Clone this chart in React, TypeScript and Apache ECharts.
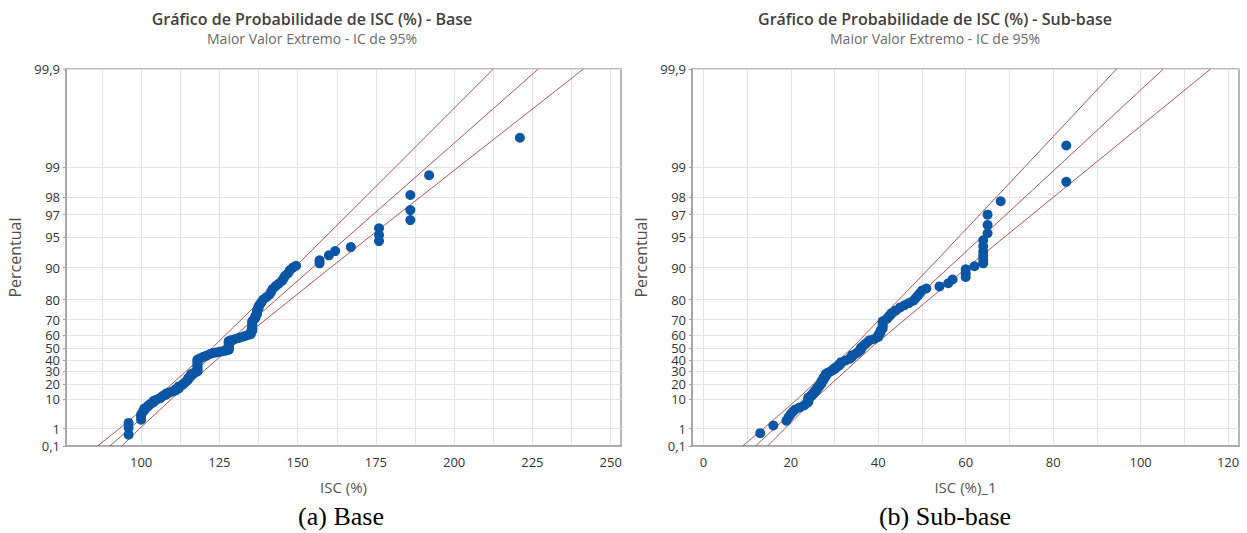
import React, { useEffect, useRef } from "react";
import * as echarts from "echarts";

// Percent ticks of the largest-extreme-value probability scale
const PERCENT_TICKS = [0.1, 1, 10, 20, 30, 40, 50, 60, 70, 80, 90, 95, 97, 98, 99, 99.9];
const PERCENT_LABELS = ["0,1", "1", "10", "20", "30", "40", "50", "60", "70", "80", "90", "95", "97", "98", "99", "99,9"];

// X axis ticks
const BASE_X_LABELS = [100, 125, 150, 175, 200, 225, 250];
const BASE_X_GRID = [87.5, 100, 112.5, 125, 137.5, 150, 162.5, 175, 187.5, 200, 212.5, 225, 237.5, 250];
const SUB_X_LABELS = [0, 20, 40, 60, 80, 100, 120];
const SUB_X_GRID = [0, 10, 20, 30, 40, 50, 60, 70, 80, 90, 100, 110, 120];

// Data points: [ISC, percent]
const BASE_POINTS: [number, number][] = [
  [96, 0.5], [96, 1.1], [96, 1.8],
  [100, 2.4], [100, 3.1], [100, 3.7], [100.5, 4.4], [101, 5.0], [101, 5.7],
  [102, 6.4], [102.5, 7.1], [103, 7.7], [104, 8.4], [104, 9.1],
  [105, 9.8], [106, 10.5], [106.5, 11.2], [107, 11.9], [108, 12.6], [108, 13.3],
  [109, 14.0], [110, 14.6], [111, 15.3], [111, 16.0], [112, 16.7], [112, 17.4], [112, 18.1],
  [113, 19.0], [113.5, 20.0], [114, 21.0], [114.5, 22.0], [115, 23.2], [115, 24.3], [115.5, 25.5], [116, 26.6], [116, 27.8], [117, 29.0],
  [118, 30], [118, 31.5], [118, 33], [118, 34.5], [118, 36], [118, 37.5], [118, 39], [118, 40.2],
  [119, 41.5], [120, 42.7], [121, 43.8], [122, 45], [123, 45.8], [124, 46.3], [125, 46.8], [126, 47.3], [127, 47.8],
  [128, 48.5], [128, 49.5], [128, 50.5], [128, 51.5], [128, 52.5], [128, 53.5], [128, 54.5], [128, 55.5],
  [129, 56.3], [130, 57], [131, 57.7], [132, 58.4], [133, 59.1], [134, 59.8], [135, 60.5], [135, 61.2],
  [135, 62], [135.5, 63], [135.5, 64], [135.5, 65], [135.5, 66], [135.5, 67], [135.5, 68], [135.5, 69],
  [136, 70], [136.5, 71], [136.5, 72], [137, 73], [137, 74], [137, 75], [137.5, 76], [137.5, 77], [138, 78], [138.5, 79],
  [139, 80], [140, 81], [141, 82], [141.5, 83], [142, 84], [143, 85], [144, 85.8], [145, 86.6], [145.5, 87.3], [146, 88],
  [147, 88.7], [147.5, 89.4], [148.5, 90], [149.5, 90.4],
  [157, 90.9], [157, 91.5], [160, 92.4], [162, 93.1], [167, 93.7],
  [176, 94.5], [176, 95.2], [176, 95.9], [186, 96.6], [186, 97.3], [186, 98.1], [192, 98.8], [221, 99.5],
];

const SUB_POINTS: [number, number][] = [
  [13, 0.6], [16, 1.4], [19, 2.2], [19.5, 3.0], [20, 3.8], [20.5, 4.6], [21, 5.3], [22, 6.1], [23, 6.9], [23.5, 7.7],
  [24, 8.5], [24, 9.3], [24, 10.1], [24, 10.9],
  [24.5, 11.7], [25, 12.5], [25, 13.3], [25.5, 14.1], [25.5, 15], [26, 16], [26, 17], [26.5, 18], [26.5, 19], [27, 20],
  [27, 21], [27, 22], [27.5, 23], [27.5, 24], [27.5, 25], [28, 26], [28, 27], [28, 28], [28.5, 29],
  [29, 30], [29.5, 31], [30, 32], [30, 33], [30.5, 34], [31, 35], [31, 36], [31.5, 37], [31.5, 38],
  [32.5, 39.5], [33.5, 41], [34, 42.5], [34, 44], [35, 45.5], [35.5, 47], [36, 48.5], [36, 50], [36.5, 51.5], [37, 53],
  [37.5, 54.5], [38, 56],
  [39, 57], [40, 58.5], [40, 60], [40.5, 61.5], [40.5, 63], [41, 64.5], [41, 66], [41, 67.5], [41, 69],
  [42, 70.5], [42.5, 72], [43, 73.5], [44, 75], [45, 76.5], [46, 77.5], [47, 78.5], [48, 79.5], [48.5, 80.5], [49, 81.5],
  [49.5, 82.5], [50, 83.5], [51, 84.2],
  [54, 84.9], [56, 85.9], [57, 87.0], [60, 87.7], [60, 88.6], [60, 89.6], [62, 90.3],
  [64, 90.9], [64, 91.6], [64, 92.3], [64, 93.0], [64, 93.8], [64, 94.6], [65, 95.4], [65, 96.2], [65, 97.0],
  [68, 97.8], [83, 98.6], [83, 99.4],
];

// Fitted line and 95% confidence bounds, read at these percent levels: ISC values
const BAND_LEVELS = [0.1, 1, 10, 50, 90, 99, 99.9];
const BASE_FIT = [90.0, 96.3, 107.0, 125.6, 154.8, 191.2, 226.9];
const BASE_LOWER = [86.1, 93.0, 104.4, 122.7, 149.0, 181.1, 212.5];
const BASE_UPPER = [93.8, 99.5, 109.6, 128.5, 160.5, 201.2, 241.3];
const SUB_FIT = [11.9, 16.2, 23.5, 36.2, 56.1, 80.9, 105.2];
const SUB_LOWER = [9.0, 13.7, 21.5, 34.0, 51.8, 73.4, 94.5];
const SUB_UPPER = [14.7, 18.6, 25.4, 38.3, 60.3, 88.4, 116.0];

const TITLES = ["Gráfico de Probabilidade de ISC (%) - Base", "Gráfico de Probabilidade de ISC (%) - Sub-base"];
const SUBTITLE = "Maior Valor Extremo - IC de 95%";
const CAPTIONS = ["(a) Base", "(b) Sub-base"];
const X_NAMES = ["ISC (%)", "ISC (%)_1"];
const Y_NAME = "Percentual";

// Gumbel (largest extreme value) probability transform
const gum = (p: number) => -Math.log(-Math.log(p / 100));
const Y_MIN = gum(0.1);
const Y_MAX = gum(99.9);
const Y_TICKS = PERCENT_TICKS.map(gum);

const FONT = "'Open Sans', 'Noto Sans', sans-serif";
const AXIS_COLOR = "#A0A0A0";
const GRID_COLOR = "#E3E3E3";
const LINE_COLOR = "#A33636";
const DOT_COLOR = "#0A56A5";

function yLabel(v: number): string {
  let best = 0;
  for (let i = 1; i < Y_TICKS.length; i++) {
    if (Math.abs(Y_TICKS[i] - v) < Math.abs(Y_TICKS[best] - v)) best = i;
  }
  return PERCENT_LABELS[best];
}

function xAxis(gridIndex: number, min: number, max: number, labels: number[], grid: number[], name: string) {
  return {
    gridIndex,
    type: "value",
    min,
    max,
    name,
    nameLocation: "middle",
    nameGap: 33,
    nameTextStyle: { color: "#555", fontSize: 15, fontFamily: FONT },
    axisLine: { show: true, onZero: false, lineStyle: { color: AXIS_COLOR, width: 1.5 } },
    axisTick: { show: false, customValues: grid },
    axisLabel: { customValues: labels, color: "#333", fontSize: 13, margin: 9, fontFamily: FONT },
    splitLine: { show: true, lineStyle: { color: GRID_COLOR, width: 1 } },
  };
}

function yAxis(gridIndex: number) {
  return {
    gridIndex,
    type: "value",
    min: Y_MIN,
    max: Y_MAX,
    name: Y_NAME,
    nameLocation: "middle",
    nameGap: 43,
    nameTextStyle: { color: "#505050", fontSize: 16, fontFamily: FONT },
    axisLine: { show: true, onZero: false, lineStyle: { color: AXIS_COLOR, width: 1.5 } },
    axisTick: { show: true, length: 3, customValues: Y_TICKS, lineStyle: { color: AXIS_COLOR } },
    axisLabel: { customValues: Y_TICKS, formatter: yLabel, color: "#333", fontSize: 13, margin: 6, fontFamily: FONT },
    splitLine: { show: true, lineStyle: { color: GRID_COLOR, width: 1 } },
  };
}

function bandSeries(axis: number, values: number[]) {
  return {
    type: "line",
    xAxisIndex: axis,
    yAxisIndex: axis,
    data: values.map((v, i) => [v, gum(BAND_LEVELS[i])]),
    showSymbol: false,
    symbol: "none",
    silent: true,
    z: 1,
    lineStyle: { color: LINE_COLOR, width: 1, opacity: 0.85 },
  };
}

function pointSeries(axis: number, pts: [number, number][]) {
  return {
    type: "scatter",
    xAxisIndex: axis,
    yAxisIndex: axis,
    data: pts.map(([v, p]) => [v, gum(p)]),
    symbolSize: 10,
    z: 3,
    itemStyle: { color: DOT_COLOR, opacity: 1 },
  };
}

export default function App() {
  const ref = useRef<HTMLDivElement>(null);
  useEffect(() => {
    if (!ref.current) return;
    const chart = echarts.init(ref.current, null, { renderer: "svg" });
    const centers = [312, 935];
    const capCenters = [341, 945];
    const graphic: any[] = [];
    for (let i = 0; i < 2; i++) {
      graphic.push({
        type: "text", x: centers[i], y: 19,
        style: { text: TITLES[i], fill: "#404040", font: `600 16px ${FONT}`, textAlign: "center", textVerticalAlign: "middle" },
      });
      graphic.push({
        type: "text", x: centers[i], y: 38,
        style: { text: SUBTITLE, fill: "#6A6A6A", font: `14px ${FONT}`, textAlign: "center", textVerticalAlign: "middle" },
      });
      graphic.push({
        type: "text", x: capCenters[i], y: 516,
        style: { text: CAPTIONS[i], fill: "#000", font: `26px 'Liberation Serif', 'Times New Roman', serif`, textAlign: "center", textVerticalAlign: "middle" },
      });
    }
    chart.setOption({
      animation: false,
      backgroundColor: "#fff",
      textStyle: { fontFamily: FONT },
      grid: [
        { left: 66, top: 69, width: 555, height: 377, show: true, borderColor: AXIS_COLOR, borderWidth: 1.5, backgroundColor: "transparent" },
        { left: 692, top: 69, width: 547, height: 377, show: true, borderColor: AXIS_COLOR, borderWidth: 1.5, backgroundColor: "transparent" },
      ],
      xAxis: [
        xAxis(0, 76, 253.3, BASE_X_LABELS, BASE_X_GRID, X_NAMES[0]),
        xAxis(1, -2.6, 122.5, SUB_X_LABELS, SUB_X_GRID, X_NAMES[1]),
      ],
      yAxis: [yAxis(0), yAxis(1)],
      series: [
        bandSeries(0, BASE_LOWER), bandSeries(0, BASE_FIT), bandSeries(0, BASE_UPPER),
        pointSeries(0, BASE_POINTS),
        bandSeries(1, SUB_LOWER), bandSeries(1, SUB_FIT), bandSeries(1, SUB_UPPER),
        pointSeries(1, SUB_POINTS),
      ],
      graphic,
    });
    return () => chart.dispose();
  }, []);
  return <div ref={ref} style={{ position: "fixed", left: 0, top: 0, width: 1247, height: 533, background: "#fff" }} />;
}
